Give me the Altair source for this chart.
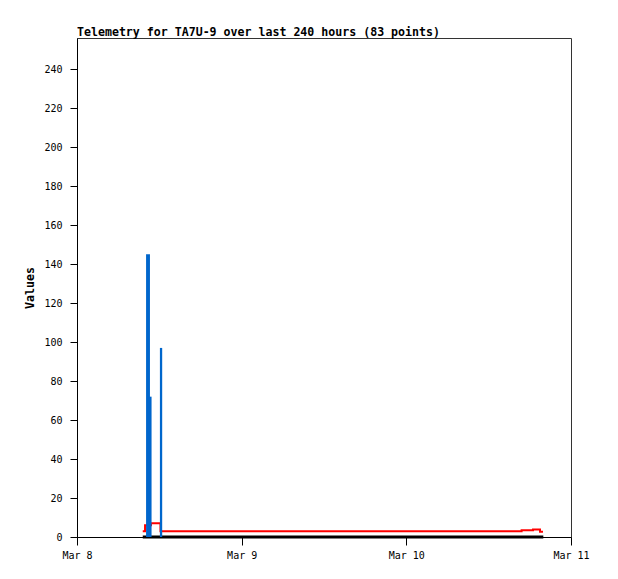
import altair as alt
import pandas as pd

# Red series (step line): times and values
red_times = ["2024-03-08T09:35", "2024-03-08T09:55", "2024-03-08T10:47",
             "2024-03-08T12:10", "2024-03-08T20:00", "2024-03-09T08:00",
             "2024-03-09T20:00", "2024-03-10T08:00", "2024-03-10T16:48",
             "2024-03-10T18:28", "2024-03-10T19:29", "2024-03-10T19:55"]
red_values = [3, 6, 7, 3, 3, 3, 3, 3, 3.4, 3.9, 2.7, 2.7]

# Black series (zero line)
black_times = ["2024-03-08T09:35", "2024-03-10T19:58"]
black_values = [0, 0]

# Blue series (bars)
blue_start = ["2024-03-08T10:04", "2024-03-08T10:30", "2024-03-08T12:05"]
blue_end = ["2024-03-08T10:38", "2024-03-08T10:52", "2024-03-08T12:25"]
blue_values = [145, 72, 97]

y_ticks = list(range(0, 241, 20))
day_ticks = [8, 9, 10, 11]

red_df = pd.DataFrame({"t": red_times, "v": red_values})
black_df = pd.DataFrame({"t": black_times, "v": black_values})
blue_df = pd.DataFrame({"t": blue_start, "t2": blue_end, "v": blue_values})

FONT = "DejaVu Sans Mono"

xscale = alt.Scale(domain=[alt.DateTime(year=2024, month=3, date=8),
                           alt.DateTime(year=2024, month=3, date=11)])
yscale = alt.Scale(domain=[0, 256], nice=False)

xaxis = alt.Axis(values=[alt.DateTime(year=2024, month=3, date=d) for d in day_ticks],
                 format="%b %-d", title=None, grid=False, tickSize=8,
                 labelPadding=5, labelFlush=False, labelAlign="center",
                 domainColor="black", tickColor="black",
                 labelFont=FONT, labelFontSize=10, labelColor="black")
yaxis = alt.Axis(values=y_ticks, title="Values", grid=False, tickSize=7,
                 labelPadding=8, domainColor="black", tickColor="black",
                 labelFont=FONT, labelFontSize=10, labelColor="black",
                 titleFont=FONT, titleFontSize=11.6, titleFontWeight="bold",
                 titlePadding=8, titleColor="black")

blue = alt.Chart(blue_df).mark_rect(color="#0066cc").encode(
    x=alt.X("t:T", scale=xscale, axis=xaxis),
    x2="t2:T",
    y=alt.Y("v:Q", scale=yscale, axis=yaxis),
    y2=alt.datum(0),
)

red = alt.Chart(red_df).mark_line(color="#ff0000", strokeWidth=2,
                                  interpolate="step-after").encode(
    x=alt.X("t:T", scale=xscale),
    y=alt.Y("v:Q", scale=yscale),
)

black = alt.Chart(black_df).mark_line(color="black", strokeWidth=3).encode(
    x=alt.X("t:T", scale=xscale),
    y=alt.Y("v:Q", scale=yscale),
)

chart = alt.layer(black, red, blue).properties(
    width=494, height=499,
    title=alt.TitleParams("Telemetry for TA7U-9 over last 240 hours (83 points)",
                          anchor="start", frame="group", font=FONT, fontSize=11.6,
                          fontWeight="bold", color="black", offset=-1),
    padding={"left": 16, "top": 19, "right": 5, "bottom": 5},
).configure_view(stroke="#333333", strokeWidth=1)

chart.save("out.html", embed_options={"renderer": "svg", "actions": False})
